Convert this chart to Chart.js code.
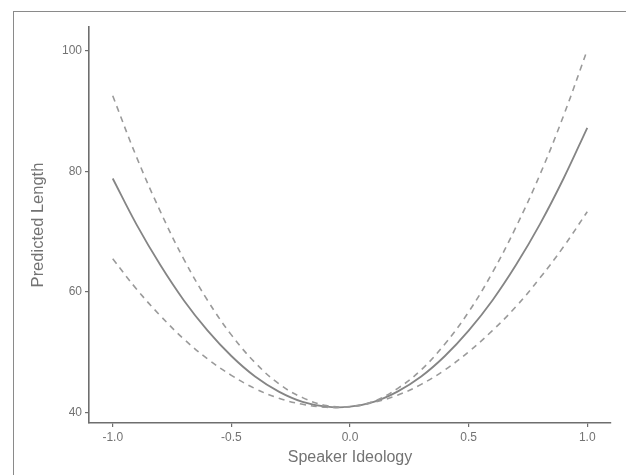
<!DOCTYPE html>
<html>
<head>
<meta charset="utf-8">
<script src="https://cdn.jsdelivr.net/npm/chart.js@4/dist/chart.umd.min.js"></script>
<style>
  html, body { margin: 0; padding: 0; background: #fff; overflow: hidden; }
  #wrap { position: relative; width: 626px; height: 475px; overflow: hidden; }
  #frame { position: absolute; left: 13px; top: 11px; width: 1000px; height: 1000px; border: 1.5px solid #8a8a8a; }
  canvas { position: absolute; left: 0; top: 0; }
</style>
</head>
<body>
<div id="wrap">
  <div id="frame"></div>
  <canvas id="chart" width="626" height="475"></canvas>
</div>
<script>
const ideology = [-1.0, -0.9, -0.8, -0.7, -0.6, -0.5, -0.4, -0.3, -0.2, -0.1, 0.0,
                  0.1, 0.2, 0.3, 0.4, 0.5, 0.6, 0.7, 0.8, 0.9, 1.0];
const predicted = [78.8, 71.2, 64.5, 58.6, 53.6, 49.4, 46.0, 43.5, 41.8, 41.0, 41.0,
                   41.8, 43.5, 46.0, 49.4, 53.6, 58.6, 64.5, 71.2, 78.8, 87.2];
const upperBound = [92.5, 82.4, 73.4, 65.4, 58.6, 52.9, 48.3, 44.8, 42.5, 41.2, 41.0,
                    41.9, 44.0, 47.1, 51.4, 56.7, 63.2, 70.8, 79.4, 89.2, 100.1];
const lowerBound = [65.5, 60.5, 56.1, 52.2, 48.9, 46.2, 44.0, 42.4, 41.4, 40.9, 41.0,
                    41.7, 42.9, 44.7, 47.1, 50.1, 53.6, 57.6, 62.3, 67.5, 73.3];
const xTicks = [-1.0, -0.5, 0.0, 0.5, 1.0];
const yTicks = [40, 60, 80, 100];

const toPoints = ys => ys.map((y, i) => ({ x: ideology[i], y: y }));
const axisColor = '#6e6e6e';
const textColor = '#737373';
const family = 'Liberation Sans, Arial, sans-serif';

const dashed = {
  borderColor: '#9a9a9a',
  borderWidth: 1.6,
  borderDash: [6, 5],
  pointRadius: 0,
  tension: 0.4,
  fill: false
};

new Chart(document.getElementById('chart'), {
  type: 'line',
  data: {
    datasets: [
      Object.assign({ label: 'Upper', data: toPoints(upperBound) }, dashed),
      Object.assign({ label: 'Lower', data: toPoints(lowerBound) }, dashed),
      {
        label: 'Predicted',
        data: toPoints(predicted),
        borderColor: '#858585',
        borderWidth: 1.8,
        pointRadius: 0,
        tension: 0.4,
        fill: false
      }
    ]
  },
  options: {
    responsive: false,
    animation: false,
    layout: { padding: { left: 0, right: 15, top: 27, bottom: 0 } },
    plugins: { legend: { display: false }, tooltip: { enabled: false } },
    scales: {
      x: {
        type: 'linear',
        min: -1.1,
        max: 1.1,
        afterBuildTicks: s => { s.ticks = xTicks.map(v => ({ value: v })); },
        afterFit: s => { s.height = 52; },
        border: { display: true, color: axisColor, width: 1.6 },
        grid: { display: true, drawOnChartArea: false, drawTicks: true, tickLength: 4, color: axisColor, lineWidth: 1.2 },
        ticks: {
          color: textColor,
          padding: 3,
          font: { family: family, size: 12 },
          callback: v => v.toFixed(1)
        },
        title: {
          display: true,
          text: 'Speaker Ideology',
          color: textColor,
          font: { family: family, size: 16 },
          padding: { top: 0, bottom: 8 }
        }
      },
      y: {
        type: 'linear',
        min: 38.3,
        max: 103.9,
        afterBuildTicks: s => { s.ticks = yTicks.map(v => ({ value: v })); },
        afterFit: s => { s.width = 89; },
        border: { display: true, color: axisColor, width: 1.6 },
        grid: { display: true, drawOnChartArea: false, drawTicks: true, tickLength: 4, color: axisColor, lineWidth: 1.2 },
        ticks: {
          color: textColor,
          padding: 3,
          font: { family: family, size: 12 }
        },
        title: {
          display: true,
          text: 'Predicted Length',
          color: textColor,
          font: { family: family, size: 16.5 },
          padding: { top: 29, bottom: 0 }
        }
      }
    }
  }
});
</script>
</body>
</html>
